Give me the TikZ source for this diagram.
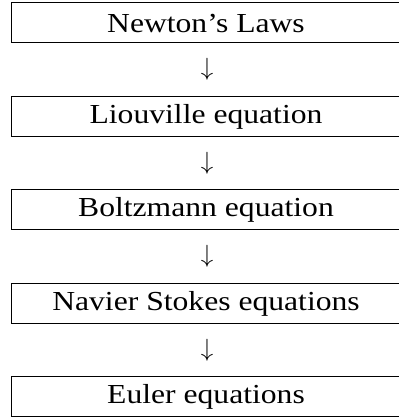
\documentclass[tikz,border=0pt]{standalone}
\usepackage{fontspec}
\setmainfont{Liberation Serif}[FakeStretch=1.15]
\begin{document}
\begin{tikzpicture}[x=1pt,y=1pt,
  lawbox/.style={draw, line width=1pt, minimum width=390pt, minimum height=40pt, inner sep=0pt, font=\fontsize{27.5}{30}\selectfont},
  downarrow/.style={inner sep=0pt, font=\fontsize{29}{30}\selectfont}]
\useasboundingbox (0,0) rectangle (399,418);
\node[lawbox] (n1) at (206,395) {Newton’s Laws};
\node[downarrow] (a1) at (207,348.25) {$\downarrow$};
\node[lawbox] (n2) at (206,301.5) {Liouville equation};
\node[downarrow] (a2) at (207,254.75) {$\downarrow$};
\node[lawbox] (n3) at (206,208) {Boltzmann equation};
\node[downarrow] (a3) at (207,161.25) {$\downarrow$};
\node[lawbox] (n4) at (206,114.5) {Navier Stokes equations};
\node[downarrow] (a4) at (207,67.75) {$\downarrow$};
\node[lawbox] (n5) at (206,21) {Euler equations};
\end{tikzpicture}
\end{document}
